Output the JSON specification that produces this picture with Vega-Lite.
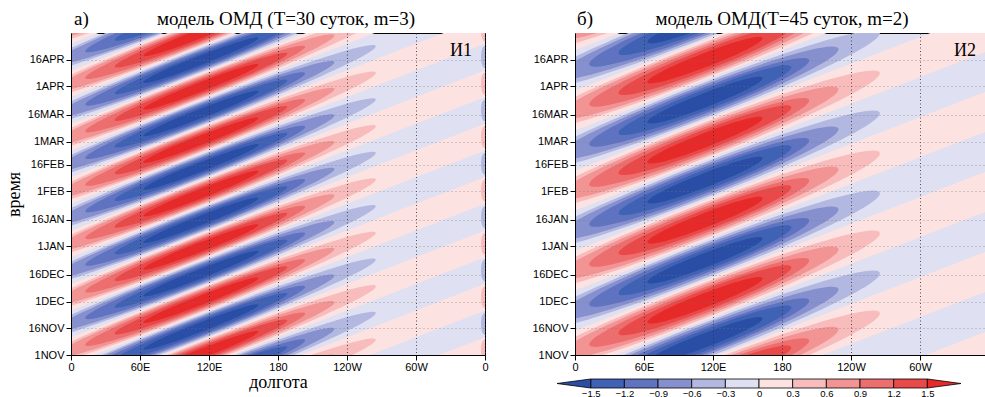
{
"$schema":"https://vega.github.io/schema/vega-lite/v6.json",
"background":"white",
"padding":{"left":4,"top":9,"right":0,"bottom":0},
"config":{
 "view":{"stroke":null},
 "axis":{"labelFont":"Liberation Sans","labelFontSize":11,"labelColor":"#000","tickColor":"#000","domainColor":"#000","tickSize":5,"labelPadding":2,"titleFont":"Liberation Serif","titleFontSize":18,"titleFontWeight":"normal","titleColor":"#000","labelFlush":false,"labelOverlap":false},
 "text":{"font":"Liberation Serif","color":"#000"}
},
"datasets":{
 "bandsA":[
  {"k":-3,"x":0,"t":-95,"t2":-80},{"k":-3,"x":360,"t":-5,"t2":10},
  {"k":-2,"x":0,"t":-65,"t2":-50},{"k":-2,"x":360,"t":25,"t2":40},
  {"k":-1,"x":0,"t":-35,"t2":-20},{"k":-1,"x":360,"t":55,"t2":70},
  {"k":0,"x":0,"t":-5,"t2":10},{"k":0,"x":360,"t":85,"t2":100},
  {"k":1,"x":0,"t":25,"t2":40},{"k":1,"x":360,"t":115,"t2":130},
  {"k":2,"x":0,"t":55,"t2":70},{"k":2,"x":360,"t":145,"t2":160},
  {"k":3,"x":0,"t":85,"t2":100},{"k":3,"x":360,"t":175,"t2":190},
  {"k":4,"x":0,"t":115,"t2":130},{"k":4,"x":360,"t":205,"t2":220},
  {"k":5,"x":0,"t":145,"t2":160},{"k":5,"x":360,"t":235,"t2":250},
  {"k":6,"x":0,"t":175,"t2":190},{"k":6,"x":360,"t":265,"t2":280}
 ],
 "bandsB":[
  {"k":-2,"x":0,"t":-98.75,"t2":-76.25},{"k":-2,"x":360,"t":-8.75,"t2":13.75},
  {"k":-1,"x":0,"t":-53.75,"t2":-31.25},{"k":-1,"x":360,"t":36.25,"t2":58.75},
  {"k":0,"x":0,"t":-8.75,"t2":13.75},{"k":0,"x":360,"t":81.25,"t2":103.75},
  {"k":1,"x":0,"t":36.25,"t2":58.75},{"k":1,"x":360,"t":126.25,"t2":148.75},
  {"k":2,"x":0,"t":81.25,"t2":103.75},{"k":2,"x":360,"t":171.25,"t2":193.75},
  {"k":3,"x":0,"t":126.25,"t2":148.75},{"k":3,"x":360,"t":216.25,"t2":238.75},
  {"k":4,"x":0,"t":171.25,"t2":193.75},{"k":4,"x":360,"t":261.25,"t2":283.75}
 ],
 "lensA":[
  {"x":110,"t":-30,"v":0.3},{"x":110,"t":0,"v":0.3},{"x":110,"t":30,"v":0.3},{"x":110,"t":60,"v":0.3},{"x":110,"t":90,"v":0.3},{"x":110,"t":120,"v":0.3},{"x":110,"t":150,"v":0.3},{"x":110,"t":180,"v":0.3},{"x":110,"t":210,"v":0.3},
  {"x":110,"t":-15,"v":-0.3},{"x":110,"t":15,"v":-0.3},{"x":110,"t":45,"v":-0.3},{"x":110,"t":75,"v":-0.3},{"x":110,"t":105,"v":-0.3},{"x":110,"t":135,"v":-0.3},{"x":110,"t":165,"v":-0.3},{"x":110,"t":195,"v":-0.3},
  {"x":106,"t":-31,"v":0.6},{"x":106,"t":-1,"v":0.6},{"x":106,"t":29,"v":0.6},{"x":106,"t":59,"v":0.6},{"x":106,"t":89,"v":0.6},{"x":106,"t":119,"v":0.6},{"x":106,"t":149,"v":0.6},{"x":106,"t":179,"v":0.6},{"x":106,"t":209,"v":0.6},
  {"x":106,"t":-16,"v":-0.6},{"x":106,"t":14,"v":-0.6},{"x":106,"t":44,"v":-0.6},{"x":106,"t":74,"v":-0.6},{"x":106,"t":104,"v":-0.6},{"x":106,"t":134,"v":-0.6},{"x":106,"t":164,"v":-0.6},{"x":106,"t":194,"v":-0.6},
  {"x":108,"t":-30.5,"v":0.9},{"x":108,"t":-0.5,"v":0.9},{"x":108,"t":29.5,"v":0.9},{"x":108,"t":59.5,"v":0.9},{"x":108,"t":89.5,"v":0.9},{"x":108,"t":119.5,"v":0.9},{"x":108,"t":149.5,"v":0.9},{"x":108,"t":179.5,"v":0.9},{"x":108,"t":209.5,"v":0.9},
  {"x":108,"t":-15.5,"v":-0.9},{"x":108,"t":14.5,"v":-0.9},{"x":108,"t":44.5,"v":-0.9},{"x":108,"t":74.5,"v":-0.9},{"x":108,"t":104.5,"v":-0.9},{"x":108,"t":134.5,"v":-0.9},{"x":108,"t":164.5,"v":-0.9},{"x":108,"t":194.5,"v":-0.9},
  {"x":113,"t":-29.25,"v":1.2},{"x":113,"t":0.75,"v":1.2},{"x":113,"t":30.75,"v":1.2},{"x":113,"t":60.75,"v":1.2},{"x":113,"t":90.75,"v":1.2},{"x":113,"t":120.75,"v":1.2},{"x":113,"t":150.75,"v":1.2},{"x":113,"t":180.75,"v":1.2},{"x":113,"t":210.75,"v":1.2},
  {"x":113,"t":-14.25,"v":-1.2},{"x":113,"t":15.75,"v":-1.2},{"x":113,"t":45.75,"v":-1.2},{"x":113,"t":75.75,"v":-1.2},{"x":113,"t":105.75,"v":-1.2},{"x":113,"t":135.75,"v":-1.2},{"x":113,"t":165.75,"v":-1.2},{"x":113,"t":195.75,"v":-1.2},
  {"x":113,"t":-29.25,"v":1.5},{"x":113,"t":0.75,"v":1.5},{"x":113,"t":30.75,"v":1.5},{"x":113,"t":60.75,"v":1.5},{"x":113,"t":90.75,"v":1.5},{"x":113,"t":120.75,"v":1.5},{"x":113,"t":150.75,"v":1.5},{"x":113,"t":180.75,"v":1.5},{"x":113,"t":210.75,"v":1.5},
  {"x":113,"t":-14.25,"v":-1.5},{"x":113,"t":15.75,"v":-1.5},{"x":113,"t":45.75,"v":-1.5},{"x":113,"t":75.75,"v":-1.5},{"x":113,"t":105.75,"v":-1.5},{"x":113,"t":135.75,"v":-1.5},{"x":113,"t":165.75,"v":-1.5},{"x":113,"t":195.75,"v":-1.5}
 ],
 "edgeA":[
  {"x":360,"t":2.5,"v":0.3},{"x":360,"t":32.5,"v":0.3},{"x":360,"t":62.5,"v":0.3},{"x":360,"t":92.5,"v":0.3},{"x":360,"t":122.5,"v":0.3},{"x":360,"t":152.5,"v":0.3},{"x":360,"t":182.5,"v":0.3},
  {"x":360,"t":17.5,"v":-0.3},{"x":360,"t":47.5,"v":-0.3},{"x":360,"t":77.5,"v":-0.3},{"x":360,"t":107.5,"v":-0.3},{"x":360,"t":137.5,"v":-0.3},{"x":360,"t":167.5,"v":-0.3}
 ],
 "lensB":[
  {"x":110,"t":-15,"v":0.3},{"x":110,"t":30,"v":0.3},{"x":110,"t":75,"v":0.3},{"x":110,"t":120,"v":0.3},{"x":110,"t":165,"v":0.3},{"x":110,"t":210,"v":0.3},
  {"x":110,"t":7.5,"v":-0.3},{"x":110,"t":52.5,"v":-0.3},{"x":110,"t":97.5,"v":-0.3},{"x":110,"t":142.5,"v":-0.3},{"x":110,"t":187.5,"v":-0.3},
  {"x":106,"t":-16,"v":0.6},{"x":106,"t":29,"v":0.6},{"x":106,"t":74,"v":0.6},{"x":106,"t":119,"v":0.6},{"x":106,"t":164,"v":0.6},{"x":106,"t":209,"v":0.6},
  {"x":106,"t":6.5,"v":-0.6},{"x":106,"t":51.5,"v":-0.6},{"x":106,"t":96.5,"v":-0.6},{"x":106,"t":141.5,"v":-0.6},{"x":106,"t":186.5,"v":-0.6},
  {"x":108,"t":-15.5,"v":0.9},{"x":108,"t":29.5,"v":0.9},{"x":108,"t":74.5,"v":0.9},{"x":108,"t":119.5,"v":0.9},{"x":108,"t":164.5,"v":0.9},{"x":108,"t":209.5,"v":0.9},
  {"x":108,"t":7,"v":-0.9},{"x":108,"t":52,"v":-0.9},{"x":108,"t":97,"v":-0.9},{"x":108,"t":142,"v":-0.9},{"x":108,"t":187,"v":-0.9},
  {"x":113,"t":-14.25,"v":1.2},{"x":113,"t":30.75,"v":1.2},{"x":113,"t":75.75,"v":1.2},{"x":113,"t":120.75,"v":1.2},{"x":113,"t":165.75,"v":1.2},{"x":113,"t":210.75,"v":1.2},
  {"x":113,"t":8.25,"v":-1.2},{"x":113,"t":53.25,"v":-1.2},{"x":113,"t":98.25,"v":-1.2},{"x":113,"t":143.25,"v":-1.2},{"x":113,"t":188.25,"v":-1.2},
  {"x":113,"t":-14.25,"v":1.5},{"x":113,"t":30.75,"v":1.5},{"x":113,"t":75.75,"v":1.5},{"x":113,"t":120.75,"v":1.5},{"x":113,"t":165.75,"v":1.5},{"x":113,"t":210.75,"v":1.5},
  {"x":113,"t":8.25,"v":-1.5},{"x":113,"t":53.25,"v":-1.5},{"x":113,"t":98.25,"v":-1.5},{"x":113,"t":143.25,"v":-1.5},{"x":113,"t":188.25,"v":-1.5}
 ],
 "cbCells":[{"lo":-1.5,"hi":-1.2},{"lo":-1.2,"hi":-0.9},{"lo":-0.9,"hi":-0.6},{"lo":-0.6,"hi":-0.3},{"lo":-0.3,"hi":0},{"lo":0,"hi":0.3},{"lo":0.3,"hi":0.6},{"lo":0.6,"hi":0.9},{"lo":0.9,"hi":1.2},{"lo":1.2,"hi":1.5}],
 "cbTri":[{"side":"L","x":-1.8,"y":0.5,"y2":0.5},{"side":"L","x":-1.5,"y":0,"y2":1},{"side":"R","x":1.5,"y":0,"y2":1},{"side":"R","x":1.8,"y":0.5,"y2":0.5}]
},
"resolve":{"scale":{"color":"independent","shape":"independent"}},
"spacing":41,
"hconcat":[
 {
  "width":414,"height":322,
  "view":{"fill":"#dfe0f1","stroke":"#000","strokeWidth":1},
  "layer":[
   {"data":{"name":"bandsA"},
    "mark":{"type":"area","orient":"vertical","clip":true,"color":"#fde2e2"},
    "encoding":{
     "x":{"field":"x","type":"quantitative","scale":{"domain":[0,360],"nice":false,"zero":false},
      "axis":{"values":[0,60,120,180,240,300,360],"tickCount":50,"labelExpr":"datum.value == 0 || datum.value == 360 ? '0' : datum.value < 180 ? datum.value + 'E' : datum.value == 180 ? '180' : (360 - datum.value) + 'W'","labelOverlap":false,"labelFlush":false,"labelPadding":1,"grid":true,"gridColor":"#333","gridDash":[1,2.5],"gridOpacity":0.85,"title":"долгота","titlePadding":1,"zindex":1}},
     "y":{"field":"t","type":"quantitative","scale":{"domain":[0,181],"nice":false,"zero":false},
      "axis":{"values":[0,15,30,45,61,76,92,107,120,135,151,166],"tickCount":50,"labelExpr":"upper(timeFormat(datetime(2001, 10, 1 + datum.value), '%-d%b'))","labelOverlap":false,"labelFlush":false,"grid":true,"gridColor":"#777","gridDash":[1,3],"gridOpacity":0.6,"title":"время","titlePadding":4,"zindex":1}},
     "y2":{"field":"t2"},
     "detail":{"field":"k","type":"nominal"}
    }},
   {"data":{"name":"lensA"},
    "mark":{"type":"point","filled":true,"clip":true,"size":4,"angle":-21.14,"opacity":1,"strokeWidth":0},
    "encoding":{
     "x":{"field":"x","type":"quantitative"},
     "y":{"field":"t","type":"quantitative"},
     "shape":{"field":"v","type":"nominal","legend":null,"scale":{"domain":[-1.5,-1.2,-0.9,-0.6,-0.3,0.3,0.6,0.9,1.2,1.5],"range":[
      "M-61.7,0C-61.7,-2.78,-37,-4.64,0,-4.64C37,-4.64,61.7,-2.78,61.7,0C61.7,2.78,37,4.64,0,4.64C-37,4.64,-61.7,2.78,-61.7,0Z",
      "M-92.5,0C-92.5,-4,-55.5,-6.67,0,-6.67C55.5,-6.67,92.5,-4,92.5,0C92.5,4,55.5,6.67,0,6.67C-55.5,6.67,-92.5,4,-92.5,0Z",
      "M-117.8,0C-117.8,-4.97,-70.7,-8.29,0,-8.29C70.7,-8.29,117.8,-4.97,117.8,0C117.8,4.97,70.7,8.29,0,8.29C-70.7,8.29,-117.8,4.97,-117.8,0Z",
      "M-151.7,0C-151.7,-5.85,-91,-9.75,0,-9.75C91,-9.75,151.7,-5.85,151.7,0C151.7,5.85,91,9.75,0,9.75C-91,9.75,-151.7,5.85,-151.7,0Z",
      "M-191.1,0C-191.1,-6.67,-114.7,-11.12,0,-11.12C114.7,-11.12,191.1,-6.67,191.1,0C191.1,6.67,114.7,11.12,0,11.12C-114.7,11.12,-191.1,6.67,-191.1,0Z",
      "M-191.1,0C-191.1,-6.67,-114.7,-11.12,0,-11.12C114.7,-11.12,191.1,-6.67,191.1,0C191.1,6.67,114.7,11.12,0,11.12C-114.7,11.12,-191.1,6.67,-191.1,0Z",
      "M-151.7,0C-151.7,-5.85,-91,-9.75,0,-9.75C91,-9.75,151.7,-5.85,151.7,0C151.7,5.85,91,9.75,0,9.75C-91,9.75,-151.7,5.85,-151.7,0Z",
      "M-117.8,0C-117.8,-4.97,-70.7,-8.29,0,-8.29C70.7,-8.29,117.8,-4.97,117.8,0C117.8,4.97,70.7,8.29,0,8.29C-70.7,8.29,-117.8,4.97,-117.8,0Z",
      "M-92.5,0C-92.5,-4,-55.5,-6.67,0,-6.67C55.5,-6.67,92.5,-4,92.5,0C92.5,4,55.5,6.67,0,6.67C-55.5,6.67,-92.5,4,-92.5,0Z",
      "M-61.7,0C-61.7,-2.78,-37,-4.64,0,-4.64C37,-4.64,61.7,-2.78,61.7,0C61.7,2.78,37,4.64,0,4.64C-37,4.64,-61.7,2.78,-61.7,0Z"]}},
     "color":{"field":"v","type":"nominal","legend":null,"scale":{"domain":[-1.5,-1.2,-0.9,-0.6,-0.3,0.3,0.6,0.9,1.2,1.5],"range":["#2a4ea6","#4062b4","#5f73c0","#8790cf","#b3b8e0","#f8bcbc","#f29494","#ed6e6e","#e94949","#e62a2a"]}}
    }},
   {"data":{"name":"edgeA"},
    "mark":{"type":"point","filled":true,"clip":true,"size":4,"opacity":1,"strokeWidth":0,"shape":"M-4,0C-4,-6.6,-2.4,-11,0,-11C2.4,-11,4,-6.6,4,0C4,6.6,2.4,11,0,11C-2.4,11,-4,6.6,-4,0Z"},
    "encoding":{
     "x":{"field":"x","type":"quantitative"},
     "y":{"field":"t","type":"quantitative"},
     "color":{"field":"v","type":"nominal","legend":null}
    }},
   {"data":{"values":[{}]},
    "mark":{"type":"text","align":"center","baseline":"alphabetic","dx":8,"dy":-8,"fontSize":19},
    "encoding":{"x":{"datum":180},"y":{"datum":181},"text":{"value":"модель ОМД (T=30 суток, m=3)"}}},
   {"data":{"values":[{}]},
    "mark":{"type":"text","align":"left","baseline":"alphabetic","dx":3,"dy":-8,"fontSize":19},
    "encoding":{"x":{"datum":0},"y":{"datum":181},"text":{"value":"а)"}}},
   {"data":{"values":[{}]},
    "mark":{"type":"text","align":"left","baseline":"alphabetic","dx":-35,"dy":23,"fontSize":18},
    "encoding":{"x":{"datum":360},"y":{"datum":181},"text":{"value":"И1"}}}
  ]
 },
 {
  "vconcat":[
   {
    "width":414,"height":322,
    "view":{"fill":"#dfe0f1","stroke":"#000","strokeWidth":1},
    "layer":[
     {"data":{"name":"bandsB"},
      "mark":{"type":"area","orient":"vertical","clip":true,"color":"#fde2e2"},
      "encoding":{
       "x":{"field":"x","type":"quantitative","scale":{"domain":[0,360],"nice":false,"zero":false},
        "axis":{"values":[0,60,120,180,240,300,360],"tickCount":50,"labelExpr":"datum.value == 0 || datum.value == 360 ? '0' : datum.value < 180 ? datum.value + 'E' : datum.value == 180 ? '180' : (360 - datum.value) + 'W'","labelOverlap":false,"labelFlush":false,"labelPadding":1,"grid":true,"gridColor":"#333","gridDash":[1,2.5],"gridOpacity":0.85,"title":null,"zindex":1}},
       "y":{"field":"t","type":"quantitative","scale":{"domain":[0,181],"nice":false,"zero":false},
        "axis":{"values":[0,15,30,45,61,76,92,107,120,135,151,166],"tickCount":50,"labelExpr":"upper(timeFormat(datetime(2001, 10, 1 + datum.value), '%-d%b'))","labelOverlap":false,"labelFlush":false,"grid":true,"gridColor":"#777","gridDash":[1,3],"gridOpacity":0.6,"title":null,"zindex":1}},
       "y2":{"field":"t2"},
       "detail":{"field":"k","type":"nominal"}
      }},
     {"data":{"name":"lensB"},
      "mark":{"type":"point","filled":true,"clip":true,"size":4,"angle":-21.14,"opacity":1,"strokeWidth":0},
      "encoding":{
       "x":{"field":"x","type":"quantitative"},
       "y":{"field":"t","type":"quantitative"},
       "shape":{"field":"v","type":"nominal","legend":null,"scale":{"domain":[-1.5,-1.2,-0.9,-0.6,-0.3,0.3,0.6,0.9,1.2,1.5],"range":[
        "M-61.7,0C-61.7,-4.18,-37,-6.96,0,-6.96C37,-6.96,61.7,-4.18,61.7,0C61.7,4.18,37,6.96,0,6.96C-37,6.96,-61.7,4.18,-61.7,0Z",
        "M-92.5,0C-92.5,-6,-55.5,-10,0,-10C55.5,-10,92.5,-6,92.5,0C92.5,6,55.5,10,0,10C-55.5,10,-92.5,6,-92.5,0Z",
        "M-117.8,0C-117.8,-7.46,-70.7,-12.44,0,-12.44C70.7,-12.44,117.8,-7.46,117.8,0C117.8,7.46,70.7,12.44,0,12.44C-70.7,12.44,-117.8,7.46,-117.8,0Z",
        "M-151.7,0C-151.7,-8.78,-91,-14.63,0,-14.63C91,-14.63,151.7,-8.78,151.7,0C151.7,8.78,91,14.63,0,14.63C-91,14.63,-151.7,8.78,-151.7,0Z",
        "M-191.1,0C-191.1,-10,-114.7,-16.68,0,-16.68C114.7,-16.68,191.1,-10,191.1,0C191.1,10,114.7,16.68,0,16.68C-114.7,16.68,-191.1,10,-191.1,0Z",
        "M-191.1,0C-191.1,-10,-114.7,-16.68,0,-16.68C114.7,-16.68,191.1,-10,191.1,0C191.1,10,114.7,16.68,0,16.68C-114.7,16.68,-191.1,10,-191.1,0Z",
        "M-151.7,0C-151.7,-8.78,-91,-14.63,0,-14.63C91,-14.63,151.7,-8.78,151.7,0C151.7,8.78,91,14.63,0,14.63C-91,14.63,-151.7,8.78,-151.7,0Z",
        "M-117.8,0C-117.8,-7.46,-70.7,-12.44,0,-12.44C70.7,-12.44,117.8,-7.46,117.8,0C117.8,7.46,70.7,12.44,0,12.44C-70.7,12.44,-117.8,7.46,-117.8,0Z",
        "M-92.5,0C-92.5,-6,-55.5,-10,0,-10C55.5,-10,92.5,-6,92.5,0C92.5,6,55.5,10,0,10C-55.5,10,-92.5,6,-92.5,0Z",
        "M-61.7,0C-61.7,-4.18,-37,-6.96,0,-6.96C37,-6.96,61.7,-4.18,61.7,0C61.7,4.18,37,6.96,0,6.96C-37,6.96,-61.7,4.18,-61.7,0Z"]}},
       "color":{"field":"v","type":"nominal","legend":null,"scale":{"domain":[-1.5,-1.2,-0.9,-0.6,-0.3,0.3,0.6,0.9,1.2,1.5],"range":["#2a4ea6","#4062b4","#5f73c0","#8790cf","#b3b8e0","#f8bcbc","#f29494","#ed6e6e","#e94949","#e62a2a"]}}
      }},
     {"data":{"values":[{}]},
      "mark":{"type":"text","align":"center","baseline":"alphabetic","dx":0,"dy":-8,"fontSize":19},
      "encoding":{"x":{"datum":180},"y":{"datum":181},"text":{"value":"модель ОМД(T=45 суток, m=2)"}}},
     {"data":{"values":[{}]},
      "mark":{"type":"text","align":"left","baseline":"alphabetic","dx":2,"dy":-8,"fontSize":19},
      "encoding":{"x":{"datum":0},"y":{"datum":181},"text":{"value":"б)"}}},
     {"data":{"values":[{}]},
      "mark":{"type":"text","align":"left","baseline":"alphabetic","dx":-35,"dy":23,"fontSize":18},
      "encoding":{"x":{"datum":360},"y":{"datum":181},"text":{"value":"И2"}}}
    ]
   },
   {
    "width":386,"height":9,
    "view":{"stroke":null},
    "layer":[
     {"data":{"name":"cbCells"},
      "mark":{"type":"rect","stroke":"#000","strokeWidth":0.8},
      "encoding":{
       "x":{"field":"lo","type":"quantitative","scale":{"domain":[-1.64,1.8],"nice":false,"zero":false},
        "axis":{"values":[-1.5,-1.2,-0.9,-0.6,-0.3,0,0.3,0.6,0.9,1.2,1.5],"tickCount":50,"labelExpr":"datum.value == 0 ? '0' : format(datum.value, '.1f')","labelOverlap":false,"labelFlush":false,"domain":false,"ticks":false,"tickSize":0,"grid":false,"labelPadding":0,"labelFontSize":9.5,"title":null}},
       "x2":{"field":"hi"},
       "color":{"field":"lo","type":"quantitative","legend":null,"scale":{"type":"threshold","domain":[-1.5,-1.2,-0.9,-0.6,-0.3,0,0.3,0.6,0.9,1.2,1.5],"range":["#2a4ea6","#4062b4","#5f73c0","#8790cf","#b3b8e0","#dfe0f1","#fde2e2","#f8bcbc","#f29494","#ed6e6e","#e94949","#e62a2a"]}}
      }},
     {"data":{"name":"cbTri"},
      "transform":[{"filter":"datum.side == 'L'"}],
      "mark":{"type":"area","orient":"vertical","stroke":"#000","strokeWidth":0.8,"fill":"#2a4ea6"},
      "encoding":{
       "x":{"field":"x","type":"quantitative"},
       "y":{"field":"y","type":"quantitative","scale":{"domain":[0,1]},"axis":null},
       "y2":{"field":"y2"}
      }},
     {"data":{"name":"cbTri"},
      "transform":[{"filter":"datum.side == 'R'"}],
      "mark":{"type":"area","orient":"vertical","stroke":"#000","strokeWidth":0.8,"fill":"#e62a2a"},
      "encoding":{
       "x":{"field":"x","type":"quantitative"},
       "y":{"field":"y","type":"quantitative","scale":{"domain":[0,1]},"axis":null},
       "y2":{"field":"y2"}
      }}
    ]
   }
  ],
  "spacing":24,
  "bounds":"flush",
  "resolve":{"scale":{"color":"independent","shape":"independent"}}
 }
]
}
